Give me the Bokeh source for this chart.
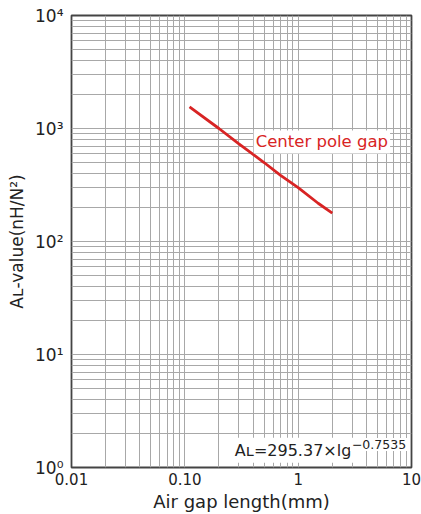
from bokeh.plotting import figure
from bokeh.models import FixedTicker, Label
from bokeh.embed import file_html
from bokeh.resources import INLINE

# data
gap_mm = [0.11, 0.2, 0.3, 0.5, 0.7, 1.0, 1.5, 2.0]
al_value = [1550, 1000, 730, 500, 385, 300, 218, 178]

x_ticks = [0.01, 0.1, 1, 10]
x_labels = ["0.01", "0.10", "1", "10"]
y_ticks = [1, 10, 100, 1000, 10000]
y_labels = ["10\u2070", "10\u00b9", "10\u00b2", "10\u00b3", "10\u2074"]

FONT = "DejaVu Sans"
INK = "#222222"
GRID = "#a8a8a8"
RED = "#d82424"

def minors(majors):
    out = []
    for m in majors[:-1]:
        out += [m * k for k in range(2, 10)]
    return out

p = figure(x_axis_type="log", y_axis_type="log",
           x_range=(0.01, 10), y_range=(1, 10000),
           width=421, height=514,
           min_border_top=15, min_border_right=10, min_border_left=71, min_border_bottom=45,
           output_backend="svg", toolbar_location=None)

p.xaxis.ticker = FixedTicker(ticks=x_ticks, minor_ticks=minors(x_ticks))
p.yaxis.ticker = FixedTicker(ticks=y_ticks, minor_ticks=minors(y_ticks))
p.xaxis.major_label_overrides = dict(zip(x_ticks, x_labels))
p.yaxis.major_label_overrides = dict(zip(y_ticks, y_labels))

for ax in (p.xaxis, p.yaxis):
    ax.major_tick_line_color = None
    ax.minor_tick_line_color = None
    ax.major_tick_out = 0
    ax.minor_tick_out = 0
    ax.axis_line_color = None
    ax.major_label_text_font = FONT
    ax.major_label_text_color = INK
    ax.axis_label_text_font = FONT
    ax.axis_label_text_font_style = "normal"
    ax.axis_label_text_color = INK
    ax.axis_label_text_font_size = "17px"

p.xaxis.major_label_text_font_size = "15px"
p.xaxis.major_label_standoff = 5
p.xaxis.axis_label = "Air gap length(mm)"
p.xaxis.axis_label_text_font_size = "18px"
p.xaxis.axis_label_standoff = 3

p.yaxis.major_label_text_font_size = "17px"
p.yaxis.major_label_standoff = 8
p.yaxis.axis_label = "A\u029f-value(nH/N\u00b2)"
p.yaxis.axis_label_standoff = 5

for g in (p.xgrid, p.ygrid):
    g.grid_line_color = GRID
    g.minor_grid_line_color = GRID
    g.grid_line_width = 1
    g.minor_grid_line_width = 1

p.outline_line_color = "#444444"
p.outline_line_width = 1.8
p.background_fill_color = "white"

p.line(gap_mm, al_value, line_color=RED, line_width=2.8)

p.add_layout(Label(x=0.405, y=760, text="Center pole gap", text_font=FONT,
                   text_font_size="16.5px", text_color=RED,
                   text_baseline="alphabetic", background_fill_color="white",
                   padding=2))

p.add_layout(Label(x=0.26, y=1.42, text="A\u029f=295.37\u00d7lg", text_font=FONT,
                   text_font_size="16px", text_color=INK,
                   text_baseline="alphabetic", background_fill_color="white",
                   padding=3))
p.add_layout(Label(x=2.86, y=1.6, text="\u22120.7535", text_font=FONT,
                   text_font_size="12.5px", text_color=INK,
                   text_baseline="alphabetic", background_fill_color="white",
                   padding=2))

open("out.html", "w").write(file_html(p, INLINE))
